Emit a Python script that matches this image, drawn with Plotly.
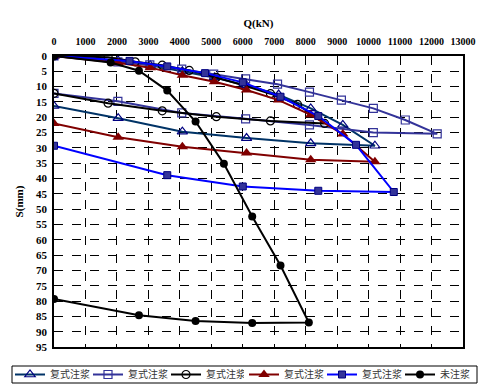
import plotly.graph_objects as go

# Series 1: 复式注浆 (open triangle)
q1 = [0, 2040, 3060, 4080, 5100, 6120, 7140, 8160, 9180, 10200, 8160, 6120, 4080, 2040, 0]
s1 = [0, 1.5, 3.0, 5.0, 7.0, 9.6, 12.6, 17.1, 22.5, 29.3, 28.5, 26.8, 24.7, 20.3, 16.3]
# Series 2: 复式注浆 (open square)
q2 = [0, 2030, 3045, 4060, 5075, 6090, 7105, 8120, 9135, 10150, 11165, 12180, 10150, 8120, 6090, 4060, 2030, 0]
s2 = [0, 1.9, 2.9, 4.3, 5.9, 7.5, 9.2, 11.8, 14.4, 17.1, 20.9, 25.4, 25.0, 22.5, 20.5, 18.6, 14.8, 12.2]
# Series 3: 复式注浆 (open circle)
q3 = [0, 1720, 2580, 3440, 4300, 5160, 6020, 6880, 7740, 8600, 6880, 5160, 3440, 1720, 0]
s3 = [0, 0.4, 1.9, 3.0, 4.7, 7.0, 9.6, 12.3, 15.8, 22.0, 21.2, 19.8, 17.9, 15.4, 12.2]
# Series 4: 复式注浆 (filled triangle)
q4 = [0, 2040, 3060, 4080, 5100, 6120, 7140, 8160, 9180, 10200, 8160, 6120, 4080, 2040, 0]
s4 = [0, 2.2, 3.8, 6.3, 8.4, 11.1, 14.4, 19.2, 25.5, 34.5, 33.9, 31.7, 29.6, 26.5, 22.0]
# Series 5: 复式注浆 (filled square)
q5 = [0, 2400, 3600, 4800, 6000, 7200, 8400, 9600, 10800, 8400, 6000, 3600, 0]
s5 = [0, 1.6, 3.4, 5.6, 8.6, 13.3, 19.6, 29.0, 44.4, 44.0, 42.6, 38.9, 29.3]
# Series 6: 未注浆 (filled circle)
q6 = [0, 1800, 2700, 3600, 4500, 5400, 6300, 7200, 8100, 6300, 4500, 2700, 0]
s6 = [0, 2.1, 4.8, 11.3, 21.4, 35.2, 52.4, 68.4, 87.0, 87.2, 86.5, 84.6, 79.3]

names = ["复式注浆", "复式注浆", "复式注浆", "复式注浆", "复式注浆", "未注浆"]
x_ticks = list(range(0, 13001, 1000))
x_tick_labels = [str(v) for v in x_ticks]
y_ticks = list(range(0, 96, 5))

W, H = 493, 392
ML, MR, MT, MB = 54, 30, 56, 45
PW, PH = W - ML - MR, H - MT - MB

fig = go.Figure()
styles = [
    (q1, s1, "#003366", dict(symbol="triangle-up-open", size=9, color="#000080", line=dict(width=1.2, color="#000080"))),
    (q2, s2, "#333399", dict(symbol="square-open", size=8, color="#333399", line=dict(width=1.2, color="#333399"))),
    (q3, s3, "#000000", dict(symbol="circle-open", size=8, color="#000000", line=dict(width=1.2, color="#000000"))),
    (q4, s4, "#800000", dict(symbol="triangle-up", size=10, color="#800000", line=dict(width=0))),
    (q5, s5, "#0000FF", dict(symbol="square", size=7, color="#333399", line=dict(width=1, color="#000080"))),
    (q6, s6, "#000000", dict(symbol="circle", size=8, color="#000000", line=dict(width=0))),
]
for i, ((q, s, lc, mk), nm) in enumerate(zip(styles, names)):
    fig.add_trace(go.Scatter(x=q, y=s, mode="lines+markers", name=nm,
                             legend="legend" if i < 3 else "legend2",
                             line=dict(color=lc, width=2), marker=mk))

axis_common = dict(showgrid=True, gridcolor="black", griddash="dash", gridwidth=1,
                   showline=True, linecolor="black", linewidth=1.5, mirror=True,
                   zeroline=False, ticks="", automargin=False)
fig.update_xaxes(side="top", range=[0, 13000], tickvals=x_ticks, ticktext=x_tick_labels,
                 ticklabelstandoff=5,
                 tickfont=dict(family="Liberation Serif", size=10, color="black", weight="bold"),
                 title=dict(text="<b>Q(kN)</b>", font=dict(family="Liberation Serif", size=11, color="black"), standoff=6),
                 **axis_common)
fig.update_yaxes(range=[95, 0], tickvals=y_ticks, ticktext=[str(v) for v in y_ticks],
                 ticklabelstandoff=3,
                 tickfont=dict(family="Liberation Serif", size=11, color="black", weight="bold"),
                 title=dict(text="<b>S(mm)</b>", font=dict(family="Liberation Serif", size=11, color="black"), standoff=10),
                 **axis_common)

# legend box (pixels -> paper coords)
box_l, box_r, box_t, box_b = 12, 477, 366, 383
leg_common = dict(orientation="h", xref="container", yref="container",
                  xanchor="left", y=1 - (box_t + box_b) / 2 / H, yanchor="middle",
                  borderwidth=0, bgcolor="rgba(0,0,0,0)",
                  font=dict(family="Noto Sans CJK SC", size=10, color="#333333"),
                  entrywidth=33, itemwidth=30, tracegroupgap=0)
fig.update_layout(
    width=W, height=H,
    margin=dict(l=ML, r=MR, t=MT, b=MB, autoexpand=False),
    paper_bgcolor="white", plot_bgcolor="white",
    showlegend=True,
    legend=dict(x=(box_l - 2) / W, **leg_common),
    legend2=dict(x=(box_l - 2 + 3 * 78) / W, **leg_common),
    shapes=[dict(type="rect", xref="paper", yref="paper",
                 x0=(box_l - ML) / PW, x1=(box_r - ML) / PW,
                 y0=(H - MB - box_b) / PH, y1=(H - MB - box_t) / PH,
                 line=dict(color="black", width=1), fillcolor="rgba(0,0,0,0)", layer="below")],
)
fig.write_html("out.html", config={"displayModeBar": False},
               post_script="document.body.style.margin='0';")
